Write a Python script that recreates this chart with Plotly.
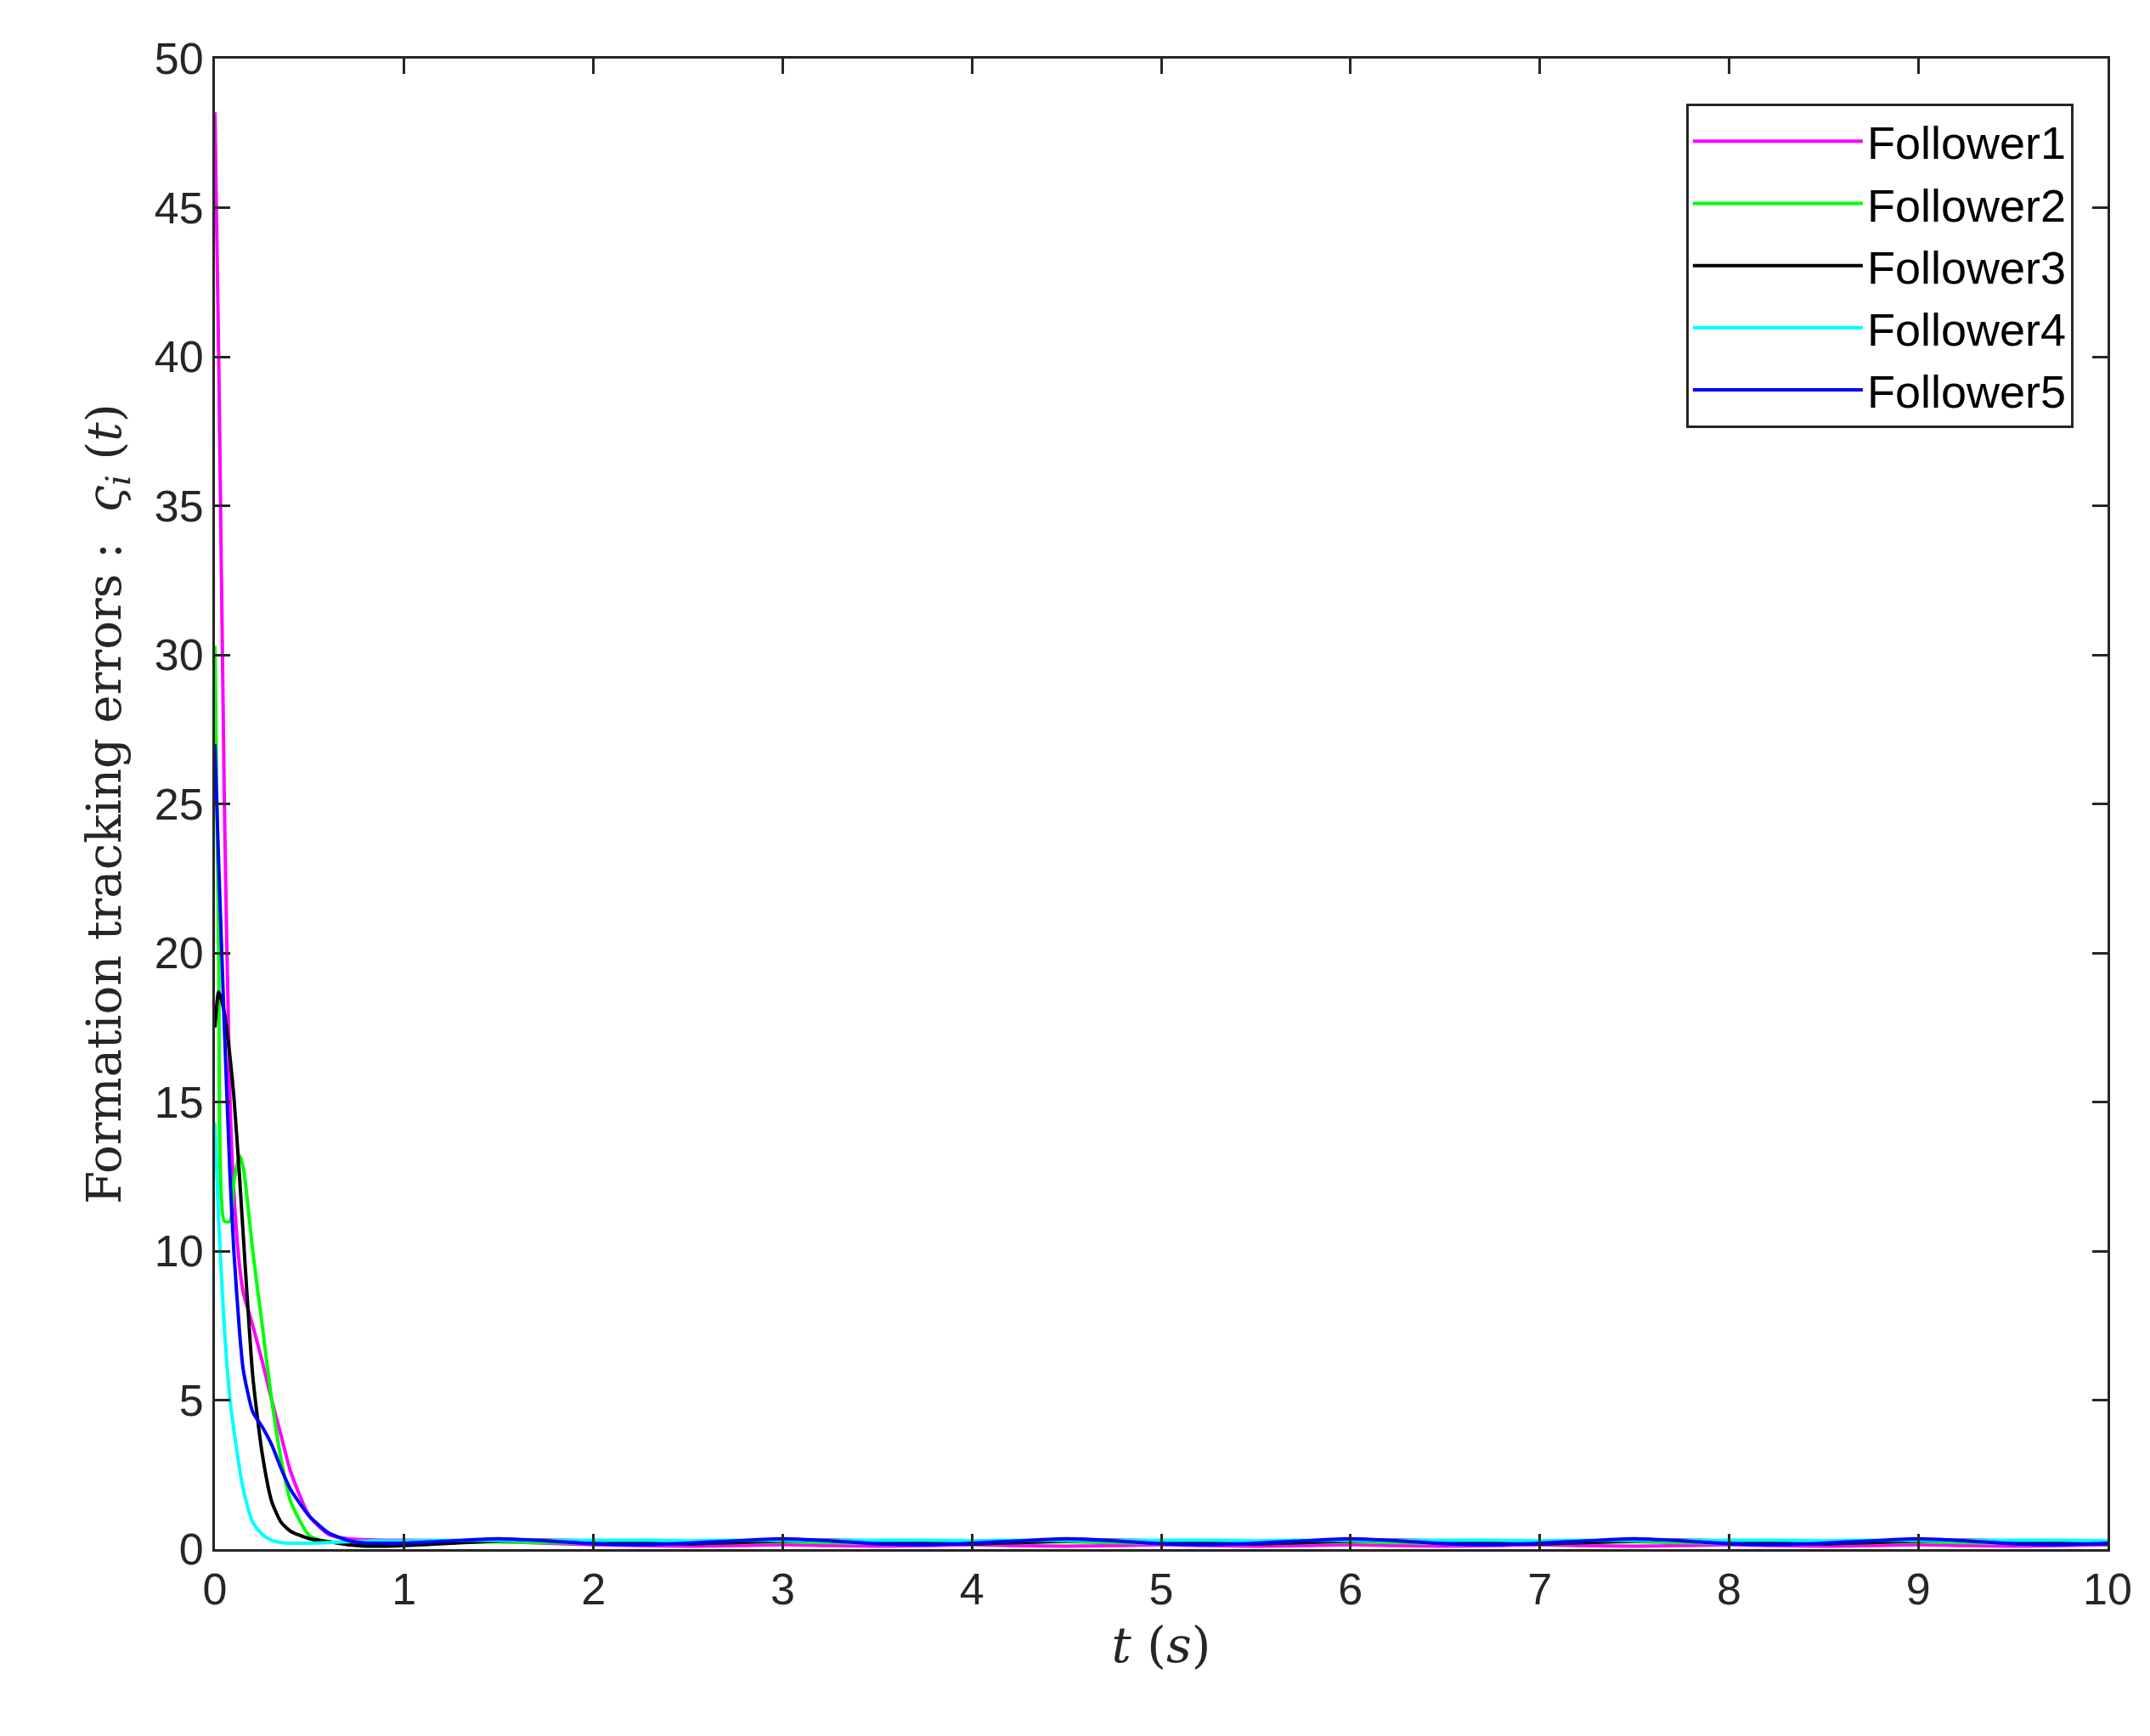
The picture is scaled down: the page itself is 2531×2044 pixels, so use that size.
import plotly.graph_objects as go

# early transient samples
t_early = [0.0, 0.02, 0.05, 0.08, 0.1, 0.13, 0.15, 0.2, 0.25, 0.3, 0.35, 0.4, 0.5, 0.6, 0.7, 0.8, 0.9]
f1_early = [48.2, 40.0, 25.0, 15.0, 12.0, 9.5, 8.6, 7.5, 6.3, 5.0, 3.8, 2.6, 1.1, 0.5, 0.35, 0.32, 0.3]
f2_early = [30.3, 20.0, 11.0, 11.0, 12.3, 13.2, 12.8, 10.0, 7.5, 5.0, 3.0, 1.6, 0.45, 0.25, 0.22, 0.2, 0.2]
f3_early = [17.5, 18.7, 18.0, 16.5, 15.2, 12.5, 10.5, 5.8, 3.2, 1.6, 0.9, 0.6, 0.35, 0.25, 0.15, 0.1, 0.1]
f4_early = [14.3, 11.0, 7.4, 5.0, 4.0, 2.7, 2.0, 0.9, 0.5, 0.3, 0.22, 0.2, 0.2, 0.22, 0.25, 0.27, 0.28]
f5_early = [27.0, 23.0, 17.5, 12.5, 10.0, 7.3, 6.0, 4.6, 4.1, 3.5, 2.7, 2.0, 1.1, 0.55, 0.3, 0.2, 0.2]

# settled tail, sampled every 0.25 s from 1 to 10
t_tail = [1 + 0.25 * k for k in range(37)]
f1_tail = [0.3, 0.28, 0.25, 0.2, 0.15, 0.12, 0.1, 0.12, 0.15, 0.12, 0.1, 0.12, 0.15, 0.12, 0.1, 0.12, 0.15, 0.12, 0.1,
           0.12, 0.15, 0.12, 0.1, 0.12, 0.15, 0.12, 0.1, 0.12, 0.15, 0.12, 0.1, 0.12, 0.15, 0.12, 0.1, 0.12, 0.15]
f2_tail = [0.2, 0.22, 0.25, 0.22, 0.2, 0.18, 0.2, 0.22, 0.25, 0.22, 0.2, 0.18, 0.2, 0.22, 0.25, 0.22, 0.2, 0.18, 0.2,
           0.22, 0.25, 0.22, 0.2, 0.18, 0.2, 0.22, 0.25, 0.22, 0.2, 0.18, 0.2, 0.22, 0.25, 0.22, 0.2, 0.18, 0.2]
f3_tail = [0.12, 0.2, 0.28, 0.3, 0.28, 0.22, 0.18, 0.22, 0.28, 0.3, 0.28, 0.22, 0.18, 0.22, 0.28, 0.3, 0.28, 0.22, 0.18,
           0.22, 0.28, 0.3, 0.28, 0.22, 0.18, 0.22, 0.28, 0.3, 0.28, 0.22, 0.18, 0.22, 0.28, 0.3, 0.28, 0.22, 0.18]
f4_tail = [0.28, 0.3, 0.3, 0.28, 0.3, 0.3, 0.28, 0.3, 0.3, 0.28, 0.3, 0.3, 0.28, 0.3, 0.3, 0.28, 0.3, 0.3, 0.28,
           0.3, 0.3, 0.28, 0.3, 0.3, 0.28, 0.3, 0.3, 0.28, 0.3, 0.3, 0.28, 0.3, 0.3, 0.28, 0.3, 0.3, 0.28]
f5_tail = [0.2, 0.28, 0.35, 0.28, 0.18, 0.15, 0.2, 0.28, 0.35, 0.28, 0.18, 0.15, 0.2, 0.28, 0.35, 0.28, 0.18, 0.15, 0.2,
           0.28, 0.35, 0.28, 0.18, 0.15, 0.2, 0.28, 0.35, 0.28, 0.18, 0.15, 0.2, 0.28, 0.35, 0.28, 0.18, 0.15, 0.2]

names = ["Follower1", "Follower2", "Follower3", "Follower4", "Follower5"]
colors = ["#ff00ff", "#00ff00", "#000000", "#00ffff", "#0000ff"]
series = [(f1_early, f1_tail), (f2_early, f2_tail), (f3_early, f3_tail), (f4_early, f4_tail), (f5_early, f5_tail)]

fig = go.Figure()
for name, color, (early, tail) in zip(names, colors, series):
    fig.add_trace(go.Scatter(x=t_early + t_tail, y=early + tail, mode="lines", name=name,
                             line=dict(color=color, width=4, shape="spline", smoothing=0.6)))

axis_common = dict(showline=True, linecolor="#262626", linewidth=3, mirror="ticks", ticks="inside",
                   ticklen=18, tickwidth=3, tickcolor="#262626", showgrid=False, zeroline=False,
                   tickfont=dict(family="Liberation Sans", size=52, color="#262626"))

fig.update_layout(
    width=2531, height=2044, template="plotly_white",
    paper_bgcolor="white", plot_bgcolor="white",
    margin=dict(l=245, r=58, t=61, b=228),
    xaxis=dict(range=[0, 10], dtick=1,
               title=dict(text="<i>t</i> (<i>s</i>)", font=dict(family="DejaVu Serif", size=58, color="#262626"),
                          standoff=18),
               **axis_common),
    yaxis=dict(range=[0, 50], dtick=5,
               title=dict(text="Formation tracking errors :  <i>ς<sub>i</sub></i> (<i>t</i>)",
                          font=dict(family="DejaVu Serif", size=56, color="#262626"), standoff=22),
               **axis_common),
    legend=dict(x=0.982, y=0.97, xanchor="right", yanchor="top", bgcolor="white",
                bordercolor="#262626", borderwidth=3,
                font=dict(family="Liberation Sans", size=54, color="#000000"),
                itemwidth=200, tracegroupgap=0),
    showlegend=True,
)

fig.write_html("out.html")
